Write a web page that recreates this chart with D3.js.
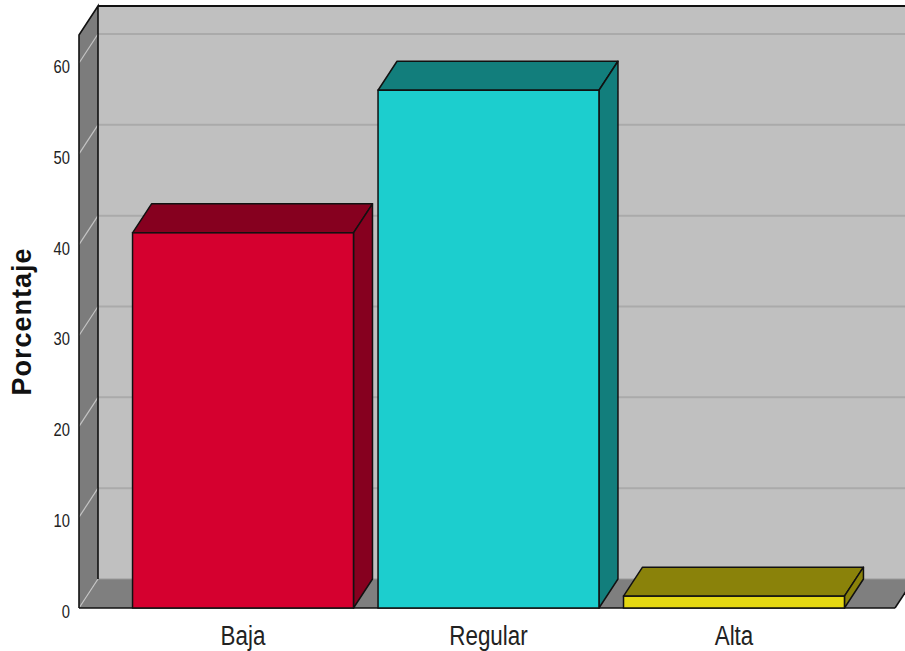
<!DOCTYPE html>
<html><head><meta charset="utf-8">
<script src="https://cdn.jsdelivr.net/npm/d3@7"></script>
<style>body{margin:0;background:#fff}svg{display:block}</style>
</head><body>
<svg id="chart" width="905" height="651"></svg>
<script>
const categories = ["Baja", "Regular", "Alta"];
const values = [41.3, 57.0, 1.3];
const tickValues = [0, 10, 20, 30, 40, 50, 60];
const frontColors = ["#d5002f", "#1ccece", "#e5d812"];
const sideColors = ["#86001f", "#127e7c", "#8a820a"];
const axisTitle = "Porcentaje";

const svg = d3.select("#chart");
const W = 905, H = 651;
const dx = 19, dy = -29;
const xL = 79, xR = 895;
const y = d3.scaleLinear().domain([0, 63.08]).range([608, 35]);
const x = d3.scaleBand().domain(categories).range([108, 869]).paddingInner(0.1).paddingOuter(0.1);
const y0 = y(0), yTop = y.range()[1];

// left wall
svg.append("path")
  .attr("d", `M${xL},${y0} L${xL},${yTop} L${xL+dx},${yTop+dy} L${xL+dx},${y0+dy} Z`)
  .attr("fill", "#7c7c7c");
// back wall
svg.append("rect").attr("x", xL+dx).attr("y", yTop+dy).attr("width", W - (xL+dx) + 20).attr("height", y0 - yTop)
  .attr("fill", "#c0c0c0");
// floor
svg.append("path")
  .attr("d", `M${xL},${y0} L${xL+dx},${y0+dy} L${xR+dx},${y0+dy} L${xR},${y0} Z`)
  .attr("fill", "#7f7f7f");

// grid lines
const g = svg.append("g");
g.selectAll(".bg").data(tickValues.filter(d => d > 0)).join("line")
  .attr("x1", xL+dx).attr("x2", W+20)
  .attr("y1", d => y(d)+dy).attr("y2", d => y(d)+dy)
  .attr("stroke", "#aaaaaa").attr("stroke-width", 2);
g.selectAll(".lg").data(tickValues).join("line")
  .attr("x1", xL).attr("x2", xL+dx)
  .attr("y1", d => y(d)).attr("y2", d => y(d)+dy)
  .attr("stroke", "#c4c4c4").attr("stroke-width", 1.2);
svg.append("line").attr("x1", xL+dx).attr("x2", W+20).attr("y1", y0+dy).attr("y2", y0+dy)
  .attr("stroke", "#9a9a9a").attr("stroke-width", 1);

// outlines
const ol = svg.append("g").attr("fill", "none").attr("stroke", "#111").attr("stroke-width", 1.6);
ol.append("path").attr("d", `M${xL},${y0} L${xL},${yTop} L${xL+dx},${yTop+dy} L${xL+dx},${y0+dy}`);
ol.append("line").attr("x1", xL+dx).attr("x2", W+20).attr("y1", yTop+dy).attr("y2", yTop+dy).attr("stroke-width", 2);
ol.append("line").attr("x1", xL).attr("x2", xR).attr("y1", y0).attr("y2", y0);
ol.append("line").attr("x1", xR).attr("x2", xR+dx).attr("y1", y0).attr("y2", y0+dy);

// bars
const bw = x.bandwidth();
const bars = svg.append("g").selectAll("g").data(categories).join("g");
bars.append("path")
  .attr("d", (c, i) => { const x0 = x(c), yt = y(values[i]);
    return `M${x0},${yt} L${x0+dx},${yt+dy} L${x0+bw+dx},${yt+dy} L${x0+bw},${yt} Z`; })
  .attr("fill", (c, i) => sideColors[i]).attr("stroke", "#111").attr("stroke-width", 1.5).attr("stroke-linejoin", "round");
bars.append("path")
  .attr("d", (c, i) => { const x0 = x(c) + bw, yt = y(values[i]);
    return `M${x0},${yt} L${x0+dx},${yt+dy} L${x0+dx},${y0+dy} L${x0},${y0} Z`; })
  .attr("fill", (c, i) => sideColors[i]).attr("stroke", "#111").attr("stroke-width", 1.5).attr("stroke-linejoin", "round");
bars.append("rect")
  .attr("x", c => x(c)).attr("width", bw)
  .attr("y", (c, i) => y(values[i])).attr("height", (c, i) => y0 - y(values[i]))
  .attr("fill", (c, i) => frontColors[i]).attr("stroke", "#111").attr("stroke-width", 1.5);

// tick labels
svg.append("g").selectAll("text").data(tickValues).join("text")
  .attr("transform", d => `translate(70,${y(d)+10}) scale(0.82,1)`)
  .attr("text-anchor", "end")
  .attr("font-family", "Liberation Sans, Arial, sans-serif").attr("font-size", 18).attr("fill", "#222")
  .text(d => d);

// category labels
svg.append("g").selectAll("text").data(categories).join("text")
  .attr("transform", c => `translate(${x(c) + bw/2},645) scale(0.8,1)`)
  .attr("text-anchor", "middle")
  .attr("font-family", "Liberation Sans, Arial, sans-serif").attr("font-size", 28).attr("fill", "#222")
  .text(c => c);

// axis title
svg.append("text")
  .attr("transform", "translate(31,322) rotate(-90)")
  .attr("text-anchor", "middle")
  .attr("font-family", "Liberation Sans, Arial, sans-serif").attr("font-weight", "bold")
  .attr("font-size", 27).attr("fill", "#111")
  .attr("textLength", 147).attr("lengthAdjust", "spacing")
  .text(axisTitle);
</script>
</body></html>
